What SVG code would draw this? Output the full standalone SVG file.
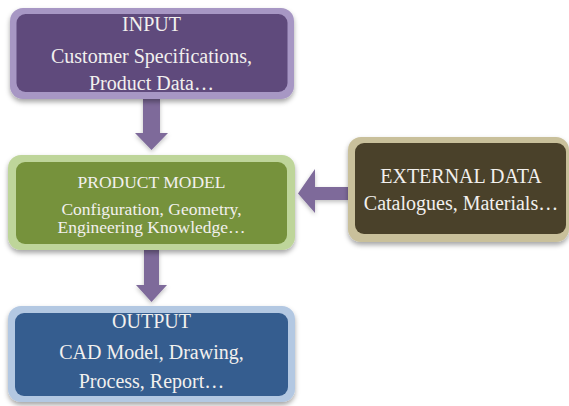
<svg xmlns="http://www.w3.org/2000/svg" width="569" height="406" viewBox="0 0 569 406">
<defs>
<filter id="sh" x="-10%" y="-10%" width="120%" height="130%">
<feDropShadow dx="0" dy="3" stdDeviation="2.5" flood-color="#000" flood-opacity="0.35"/>
</filter>
<filter id="ash" x="-30%" y="-30%" width="160%" height="160%">
<feDropShadow dx="0" dy="2" stdDeviation="2" flood-color="#000" flood-opacity="0.25"/>
</filter>
</defs>
<style>
text{font-family:"Liberation Serif","Times New Roman",serif;fill:#F2F0EE;text-anchor:middle}
.arrow{fill:#7E6A9A}
</style>
<rect width="569" height="406" fill="#FFFFFF"/>
<g id="connectors">
<path class="arrow" filter="url(#ash)" d="M143,99 H160 V133 H168 L151.5,150 L135,133 H143 Z"/>
<path class="arrow" filter="url(#ash)" d="M144,250 H159 V285 H167 L151.5,302 L136,285 H144 Z"/>
<path class="arrow" filter="url(#ash)" d="M349,187 H315 V169 L298,193.5 L315,213 V200 H349 Z"/>
</g>
<g id="input">
<rect x="10" y="8" width="284" height="91" rx="13" fill="#A797C4" filter="url(#sh)"/>
<rect x="16.5" y="14" width="271" height="78" rx="9" fill="#5F4A7C"/>
<text x="151.5" y="31" font-size="20">INPUT</text>
<text x="151.5" y="63" font-size="20">Customer Specifications,</text>
<text x="151.5" y="90" font-size="20">Product Data…</text>
</g>
<g id="product-model">
<rect x="8" y="155" width="287" height="95" rx="13" fill="#BED59A" filter="url(#sh)"/>
<rect x="16" y="162" width="271" height="82" rx="9" fill="#76923C"/>
<text x="151.5" y="188" font-size="17.5">PRODUCT MODEL</text>
<text x="151.5" y="215" font-size="17.5">Configuration, Geometry,</text>
<text x="151.5" y="233" font-size="17.5">Engineering Knowledge…</text>
</g>
<g id="output">
<rect x="8" y="306" width="287" height="96" rx="13" fill="#B3C8E2" filter="url(#sh)"/>
<rect x="15" y="313" width="273" height="83" rx="9" fill="#355D8F"/>
<text x="151.5" y="328" font-size="20">OUTPUT</text>
<text x="151.5" y="359" font-size="20">CAD Model, Drawing,</text>
<text x="151.5" y="388" font-size="20">Process, Report…</text>
</g>
<g id="external-data">
<rect x="348" y="137" width="221" height="105" rx="13" fill="#C9C09B" filter="url(#sh)"/>
<rect x="355" y="143" width="211" height="91" rx="9" fill="#4A412A"/>
<text x="461" y="183" font-size="20">EXTERNAL DATA</text>
<text x="461" y="210" font-size="20">Catalogues, Materials…</text>
</g>
</svg>
